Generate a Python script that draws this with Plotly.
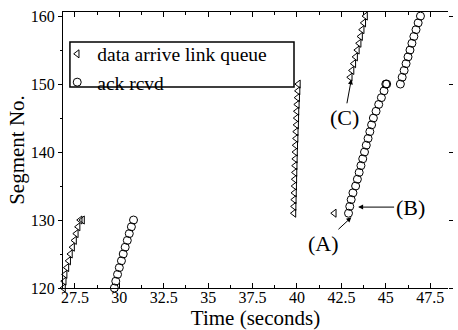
import plotly.graph_objects as go

# ---- data ----
# "data arrive link queue" (triangles)
data_t = [26.86, 26.9, 26.95, 27.05, 27.15, 27.25, 27.37, 27.48, 27.58, 27.68, 27.8, 27.93,
          39.83, 39.84, 39.85, 39.86, 39.87, 39.88, 39.89, 39.9, 39.91, 39.92,
          39.93, 39.95, 39.96, 39.98, 39.99, 40.0, 40.02, 40.04, 40.06, 40.08,
          42.1,
          43.0, 43.1, 43.2, 43.3, 43.4, 43.5, 43.58, 43.67, 43.76, 43.86, 43.96]
data_seg = [120, 121, 122, 123, 124, 125, 126, 127, 128, 129, 130, 130,
            131, 132, 133, 134, 135, 136, 137, 138, 139, 140,
            141, 142, 143, 144, 145, 146, 147, 148, 149, 150,
            131,
            151, 152, 153, 154, 155, 156, 157, 158, 159, 160, 161]

# "ack rcvd" (circles)
ack_t = [29.72, 29.8, 29.9, 30.0, 30.12, 30.22, 30.33, 30.45, 30.56, 30.68, 30.8,
         42.9, 42.97, 43.05, 43.15, 43.3, 43.4, 43.5, 43.6, 43.7, 43.8,
         43.9, 44.0, 44.1, 44.2, 44.3, 44.45, 44.6, 44.75, 44.9, 45.0, 45.05,
         45.82, 45.92, 46.03, 46.14, 46.25, 46.36, 46.47, 46.58, 46.7, 46.82, 46.95, 47.08]
ack_seg = [120, 121, 122, 123, 124, 125, 126, 127, 128, 129, 130,
           131, 132, 133, 134, 135, 136, 137, 138, 139, 140,
           141, 142, 143, 144, 145, 146, 147, 148, 149, 150, 150,
           150, 151, 152, 153, 154, 155, 156, 157, 158, 159, 160, 161]

x_ticks = [27.5, 30, 32.5, 35, 37.5, 40, 42.5, 45, 47.5]
x_tick_labels = ["27.5", "30", "32.5", "35", "37.5", "40", "42.5", "45", "47.5"]
y_ticks = [120, 130, 140, 150, 160]
y_tick_labels = ["120", "130", "140", "150", "160"]

FONT = "Liberation Serif"

fig = go.Figure()
fig.add_trace(go.Scatter(
    x=data_t, y=data_seg, mode="markers", name="data arrive link queue",
    marker=dict(symbol="triangle-left-open", size=7, color="black",
                line=dict(width=1, color="black")),
    cliponaxis=False))
fig.add_trace(go.Scatter(
    x=ack_t, y=ack_seg, mode="markers", name="ack rcvd",
    marker=dict(symbol="circle-open", size=8, color="black",
                line=dict(width=1, color="black")),
    cliponaxis=False))

# invisible trace to carry the right-hand tick-only axis
fig.add_trace(go.Scatter(x=[None], y=[None], yaxis="y2", showlegend=False,
                         hoverinfo="skip"))

fig.update_layout(
    width=458, height=330,
    margin=dict(l=63, r=6, t=12, b=42),
    paper_bgcolor="white", plot_bgcolor="white",
    font=dict(family=FONT, color="black", size=16),
    showlegend=True,
    legend=dict(x=-0.015, y=0.918, xanchor="left", yanchor="top",
                bgcolor="rgba(0,0,0,0)", borderwidth=0,
                font=dict(family=FONT, size=19.5, color="black"),
                tracegroupgap=0, itemwidth=30),
    xaxis=dict(
        range=[26.83, 48.5],
        tickmode="array", tickvals=x_ticks, ticktext=x_tick_labels,
        ticks="inside", ticklen=5, tickwidth=1, tickcolor="black",
        minor=dict(dtick=1.25, tick0=26.25, ticks="inside", ticklen=3,
                   tickcolor="black"),
        showline=True, linecolor="black", linewidth=1, mirror="ticks",
        showgrid=False, zeroline=False,
        tickfont=dict(family=FONT, size=16),
        ticklabelstandoff=-5,
        title=dict(text="Time (seconds)", font=dict(family=FONT, size=21),
                   standoff=1),
    ),
    yaxis=dict(
        range=[120, 160.6],
        tickmode="array", tickvals=y_ticks, ticktext=y_tick_labels,
        ticks="outside", ticklen=4, tickwidth=1, tickcolor="black",
        minor=dict(dtick=5, tick0=120, ticks="outside", ticklen=2,
                   tickcolor="black"),
        showline=True, linecolor="black", linewidth=1,
        showgrid=False, zeroline=False,
        tickfont=dict(family=FONT, size=16),
        title=dict(text="Segment No.", font=dict(family=FONT, size=21),
                   standoff=0),
    ),
    yaxis2=dict(
        overlaying="y", side="right", range=[120, 160.6],
        tickmode="array", tickvals=y_ticks, showticklabels=False,
        ticks="outside", ticklen=4, tickcolor="black",
        showline=False, showgrid=False, zeroline=False,
    ),
    shapes=[dict(type="rect", xref="paper", yref="paper",
                 x0=0.018, x1=0.60, y0=0.728, y1=0.891,
                 line=dict(color="black", width=1.5), layer="above")],
    annotations=[
        dict(text="(A)", x=43.06, y=130.4, ax=-28, ay=26,
             showarrow=True, arrowhead=2, arrowsize=1, arrowwidth=1,
             arrowcolor="black", font=dict(family=FONT, size=22)),
        dict(text="(B)", x=43.44, y=131.9, ax=52, ay=0,
             showarrow=True, arrowhead=2, arrowsize=1, arrowwidth=1,
             arrowcolor="black", font=dict(family=FONT, size=22)),
        dict(text="(C)", x=43.06, y=150.7, ax=-7, ay=38,
             showarrow=True, arrowhead=2, arrowsize=1, arrowwidth=1,
             arrowcolor="black", font=dict(family=FONT, size=22)),
    ],
)

fig.write_html("out.html", config={"displayModeBar": False},
               post_script="document.body.style.margin='0';")
